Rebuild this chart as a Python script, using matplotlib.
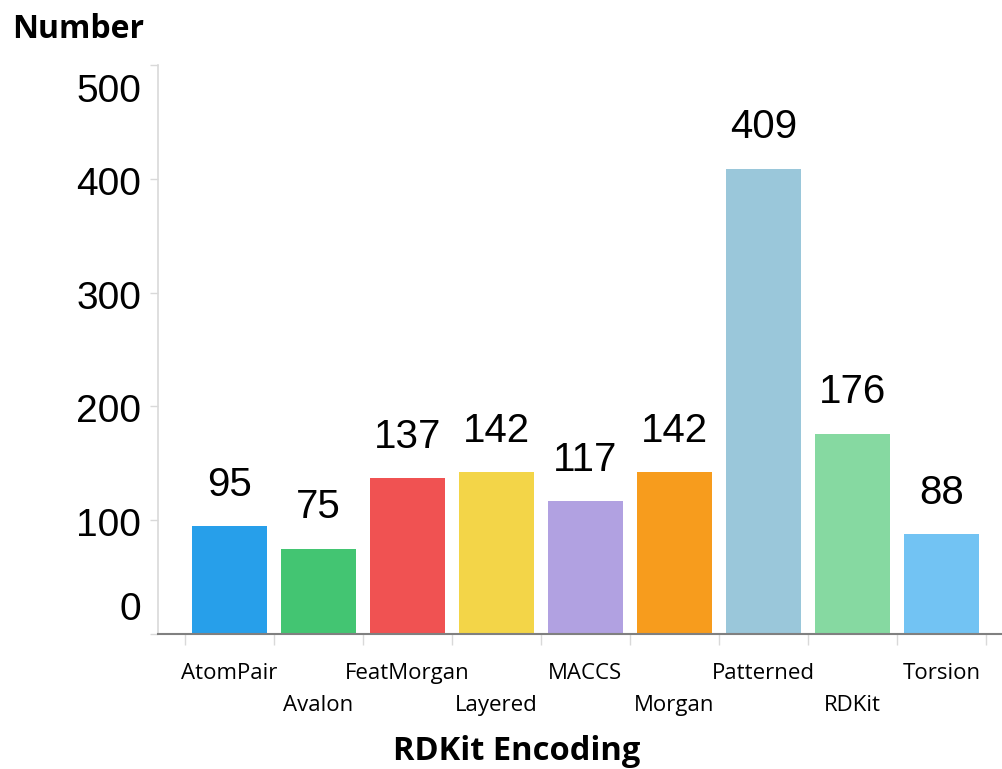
import matplotlib.pyplot as plt
import matplotlib.transforms as mtrans
import numpy as np

# data
encodings = ['AtomPair', 'Avalon', 'FeatMorgan', 'Layered', 'MACCS',
             'Morgan', 'Patterned', 'RDKit', 'Torsion']
counts = [95, 75, 137, 142, 117, 142, 409, 176, 88]
colors = ['#279FEA', '#43C572', '#F05252', '#F3D548', '#B1A1E1',
          '#F79C1D', '#9AC7DA', '#86D9A1', '#72C3F3']
yticks = [0, 100, 200, 300, 400, 500]

fig = plt.figure(figsize=(10.02, 7.69), dpi=100)
ax = fig.add_axes([158 / 1002, 135 / 769, 1 - 158 / 1002, (634 - 65) / 769])

x = np.arange(len(encodings))
ax.bar(x, counts, width=0.84, color=colors, zorder=2)

for xi, v in zip(x, counts):
    ax.annotate(str(v), (xi, v), xytext=(0, 16), textcoords='offset points',
                ha='center', va='bottom', fontsize=29, family='Liberation Sans')

ax.set_xlim(-0.80, 8.68)
ax.set_ylim(0, 500)

# y axis
ax.set_yticks(yticks)
ax.set_yticklabels([str(t) for t in yticks], fontsize=28, family='Liberation Sans')
ax.tick_params(axis='y', length=6, width=1, color='#d9d9d9', pad=6)
for lab, t in zip(ax.get_yticklabels(), yticks):
    if t == 0:
        dy = 28
    elif t == 500:
        dy = -23
    else:
        dy = -2
    lab.set_transform(lab.get_transform() + mtrans.ScaledTranslation(0, dy / 100, fig.dpi_scale_trans))

# x axis: labels at bar centres, tick marks between bars
ax.set_xticks(x)
ax.set_xticklabels(encodings, fontsize=16, family='Open Sans')
ax.tick_params(axis='x', length=0, pad=21)
for i, tk in enumerate(ax.xaxis.get_major_ticks()):
    if i % 2 == 1:
        tk.set_pad(44)
ax.set_xticks(np.arange(len(encodings) + 1) - 0.5, minor=True)
ax.tick_params(axis='x', which='minor', length=8, width=1, color='#d9d9d9')

for s in ['top', 'right']:
    ax.spines[s].set_visible(False)
ax.spines['left'].set_color('#d9d9d9')
ax.spines['left'].set_linewidth(1.2)
ax.spines['bottom'].set_color('#808080')
ax.spines['bottom'].set_linewidth(1.5)

fig.text(12 / 1002, 1 - 30 / 769, 'Number', fontsize=23, fontweight='bold',
         family='Open Sans', ha='left', va='center')
fig.text(517 / 1002, 1 - 751 / 769, 'RDKit Encoding', fontsize=23.5, fontweight='bold',
         family='Open Sans', ha='center', va='center')

fig.savefig('out.png', dpi=100)
